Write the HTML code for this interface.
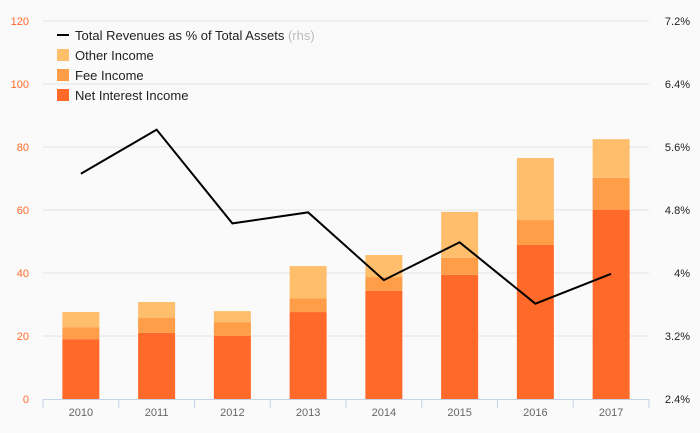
<!DOCTYPE html>
<html><head><meta charset="utf-8"><style>
body{margin:0;background:#fafafa;}
svg{display:block;font-family:"Liberation Sans",sans-serif;}
</style></head><body>
<svg id="chart" width="700" height="433">
<rect width="700" height="433" fill="#fafafa"/>
<g id="grid"></g><g id="bars"></g><g id="line"></g><g id="axes"></g>
<g font-size="13" fill="#222">
<line x1="57" y1="35" x2="69" y2="35" stroke="#000" stroke-width="2"/>
<text x="75" y="40">Total Revenues as % of Total Assets <tspan fill="#bbb">(rhs)</tspan></text>
<rect x="57" y="49" width="12" height="12" fill="#ffbe6c"/>
<text x="75" y="60">Other Income</text>
<rect x="57" y="69" width="12" height="12" fill="#ff9d48"/>
<text x="75" y="80">Fee Income</text>
<rect x="57" y="89" width="12" height="12" fill="#ff6a2a"/>
<text x="75" y="100">Net Interest Income</text>
</g>
</svg>
<script>
const years=["2010","2011","2012","2013","2014","2015","2016","2017"];
const netInterest=[19,21,20,27.6,34.3,39.4,48.9,60];
const feeIncome=[3.8,4.7,4.4,4.4,4.4,5.4,7.9,10.2];
const otherIncome=[4.8,5.1,3.5,10.2,7,14.6,19.7,12.3];
const revPct=[5.26,5.82,4.63,4.77,3.91,4.39,3.61,3.99];
const leftTicks=[0,20,40,60,80,100,120];
const rightTicks=["2.4%","3.2%","4%","4.8%","5.6%","6.4%","7.2%"];
const rightVals=[2.4,3.2,4.0,4.8,5.6,6.4,7.2];
const NS="http://www.w3.org/2000/svg";
const X0=43,BW=75.75,Y0=399,Y1=21;
const yL=v=>Y0-(v/120)*(Y0-Y1);
const yR=v=>Y0-((v-2.4)/4.8)*(Y0-Y1);
const xC=i=>X0+BW*(i+0.5);
function mk(t,a,p){const e=document.createElementNS(NS,t);for(const k in a)e.setAttribute(k,a[k]);p.appendChild(e);return e;}
const grid=document.getElementById('grid'),bars=document.getElementById('bars'),line=document.getElementById('line'),axes=document.getElementById('axes');
leftTicks.forEach((v,i)=>{
 if(v>0){const g=mk('line',{x1:X0,x2:X0+BW*8,y1:yL(v),y2:yL(v),stroke:'#e3e3e3'},grid);
 
 }
 const t=mk('text',{x:29,y:yL(v)+4,'text-anchor':'end','font-size':11,fill:'#ff6a2a'},axes);t.textContent=v;
 
 
});
rightVals.forEach((v,i)=>{
 const t=mk('text',{x:690,y:yR(v)+4,'text-anchor':'end','font-size':11,fill:'#222'},axes);t.textContent=rightTicks[i];
 
 
});
years.forEach((y,i)=>{
 const w=37,x=xC(i)-w/2;
 const a=netInterest[i],b=a+feeIncome[i],c=b+otherIncome[i];
 const r1=mk('rect',{x:x,y:yL(a),width:w,height:yL(0)-yL(a),fill:'#ff6a2a'},bars);
 
 
 const r2=mk('rect',{x:x,y:yL(b),width:w,height:yL(a)-yL(b),fill:'#ff9d48'},bars);
 
 
 const r3=mk('rect',{x:x,y:yL(c),width:w,height:yL(b)-yL(c),fill:'#ffbe6c'},bars);
 
 
 const t=mk('text',{x:xC(i),y:416,'text-anchor':'middle','font-size':11,fill:'#666'},axes);t.textContent=y;
 
 
});
for(let i=0;i<=8;i++){const tk=mk('line',{x1:X0+BW*i,x2:X0+BW*i,y1:Y0,y2:Y0+9,stroke:'#c5d3e8'},axes);
 
 }
const ax=mk('line',{x1:X0,x2:X0+BW*8,y1:Y0+0.5,y2:Y0+0.5,stroke:'#c5d3e8'},axes);


const pl=mk('polyline',{points:revPct.map((v,i)=>xC(i)+','+yR(v)).join(' '),fill:'none',stroke:'#000','stroke-width':2},line);


</script>
</body></html>
